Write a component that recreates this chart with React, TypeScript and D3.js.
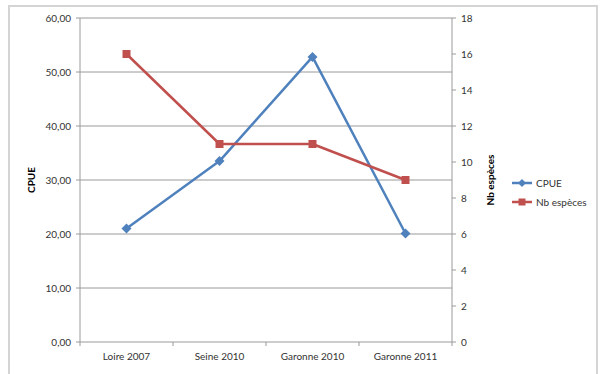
import React from "react";
import * as d3 from "d3";

const categories = ["Loire 2007", "Seine 2010", "Garonne 2010", "Garonne 2011"];
const cpue = [21.0, 33.5, 52.8, 20.1];
const nbEspeces = [16, 11, 11, 9];
const leftTicks = [0, 10, 20, 30, 40, 50, 60];
const rightTicks = [0, 2, 4, 6, 8, 10, 12, 14, 16, 18];

const W = 600;
const H = 374;
const plot = { left: 80, right: 452, top: 18, bottom: 342 };
const FONT = "Lato, 'Open Sans', sans-serif";
const BLUE = "#4F81BD";
const RED = "#C0504D";
const GRID = "#9a9a9a";

export default function App() {
  const x = d3
    .scaleBand<string>()
    .domain(categories)
    .range([plot.left, plot.right]);
  const yL = d3.scaleLinear().domain([0, 60]).range([plot.bottom, plot.top]);
  const yR = d3.scaleLinear().domain([0, 18]).range([plot.bottom, plot.top]);
  const cx = (c: string) => (x(c) ?? 0) + x.bandwidth() / 2;

  const lineL = d3
    .line<number>()
    .x((_, i) => cx(categories[i]))
    .y((d) => yL(d));
  const lineR = d3
    .line<number>()
    .x((_, i) => cx(categories[i]))
    .y((d) => yR(d));

  const fmt = (v: number) => v.toFixed(2).replace(".", ",");
  const tickEdges = [plot.left, ...categories.map((c) => (x(c) ?? 0) + x.bandwidth())];

  return (
    <svg
      width={W}
      height={H}
      style={{ position: "absolute", left: 0, top: 0, background: "#fff" }}
      fontFamily={FONT}
    >
      <rect x={9} y={6} width={588} height={H} fill="#fff" stroke="#d4d4d4" strokeWidth={2} />

      {/* horizontal gridlines */}
      {leftTicks.map((t) => (
        <line key={"g" + t} x1={plot.left} x2={plot.right} y1={yL(t)} y2={yL(t)} stroke={GRID} strokeWidth={1} />
      ))}

      {/* left axis */}
      <line x1={plot.left} x2={plot.left} y1={plot.top} y2={plot.bottom} stroke={GRID} />
      {leftTicks.map((t) => (
        <g key={"l" + t}>
          <line x1={plot.left - 4} x2={plot.left} y1={yL(t)} y2={yL(t)} stroke={GRID} />
          <text x={plot.left - 9} y={yL(t)} dy="0.35em" textAnchor="end" fontSize={10} fill="#333">
            {fmt(t)}
          </text>
        </g>
      ))}

      {/* right axis */}
      <line x1={plot.right} x2={plot.right} y1={plot.top} y2={plot.bottom} stroke={GRID} />
      {rightTicks.map((t) => (
        <g key={"r" + t}>
          <line x1={plot.right} x2={plot.right + 4} y1={yR(t)} y2={yR(t)} stroke={GRID} />
          <text x={plot.right + 9} y={yR(t)} dy="0.35em" textAnchor="start" fontSize={10} fill="#333">
            {t}
          </text>
        </g>
      ))}

      {/* category axis */}
      {tickEdges.map((e, i) => (
        <line key={"c" + i} x1={e} x2={e} y1={plot.bottom} y2={plot.bottom + 4} stroke={GRID} />
      ))}
      {categories.map((c) => (
        <text key={c} x={cx(c)} y={plot.bottom + 18} textAnchor="middle" fontSize={10} fill="#333">
          {c}
        </text>
      ))}

      {/* axis titles */}
      <text
        transform={`translate(35,${(plot.top + plot.bottom) / 2}) rotate(-90)`}
        textAnchor="middle"
        fontSize={10}
        fontWeight="bold"
        fill="#000"
      >
        CPUE
      </text>
      <text
        transform={`translate(494,${(plot.top + plot.bottom) / 2}) rotate(-90)`}
        textAnchor="middle"
        fontSize={10}
        fontWeight="bold"
        fill="#000"
      >
        Nb espèces
      </text>

      {/* series */}
      <path d={lineL(cpue) ?? ""} fill="none" stroke={BLUE} strokeWidth={2.5} strokeLinejoin="round" />
      {cpue.map((v, i) => {
        const px = cx(categories[i]);
        const py = yL(v);
        return (
          <path
            key={"m" + i}
            d={`M${px},${py - 5}L${px + 5},${py}L${px},${py + 5}L${px - 5},${py}Z`}
            fill={BLUE}
          />
        );
      })}
      <path d={lineR(nbEspeces) ?? ""} fill="none" stroke={RED} strokeWidth={2.5} strokeLinejoin="round" />
      {nbEspeces.map((v, i) => (
        <rect key={"s" + i} x={cx(categories[i]) - 4} y={yR(v) - 4} width={8} height={8} fill={RED} />
      ))}

      {/* legend */}
      <g>
        <line x1={512} x2={532} y1={183} y2={183} stroke={BLUE} strokeWidth={2.5} />
        <path d="M522,179L526,183L522,187L518,183Z" fill={BLUE} />
        <text x={536} y={183} dy="0.35em" fontSize={10} fill="#333">CPUE</text>
        <line x1={512} x2={532} y1={202} y2={202} stroke={RED} strokeWidth={2.5} />
        <rect x={518.5} y={198.5} width={7} height={7} fill={RED} />
        <text x={536} y={202} dy="0.35em" fontSize={10} fill="#333">Nb espèces</text>
      </g>
    </svg>
  );
}
